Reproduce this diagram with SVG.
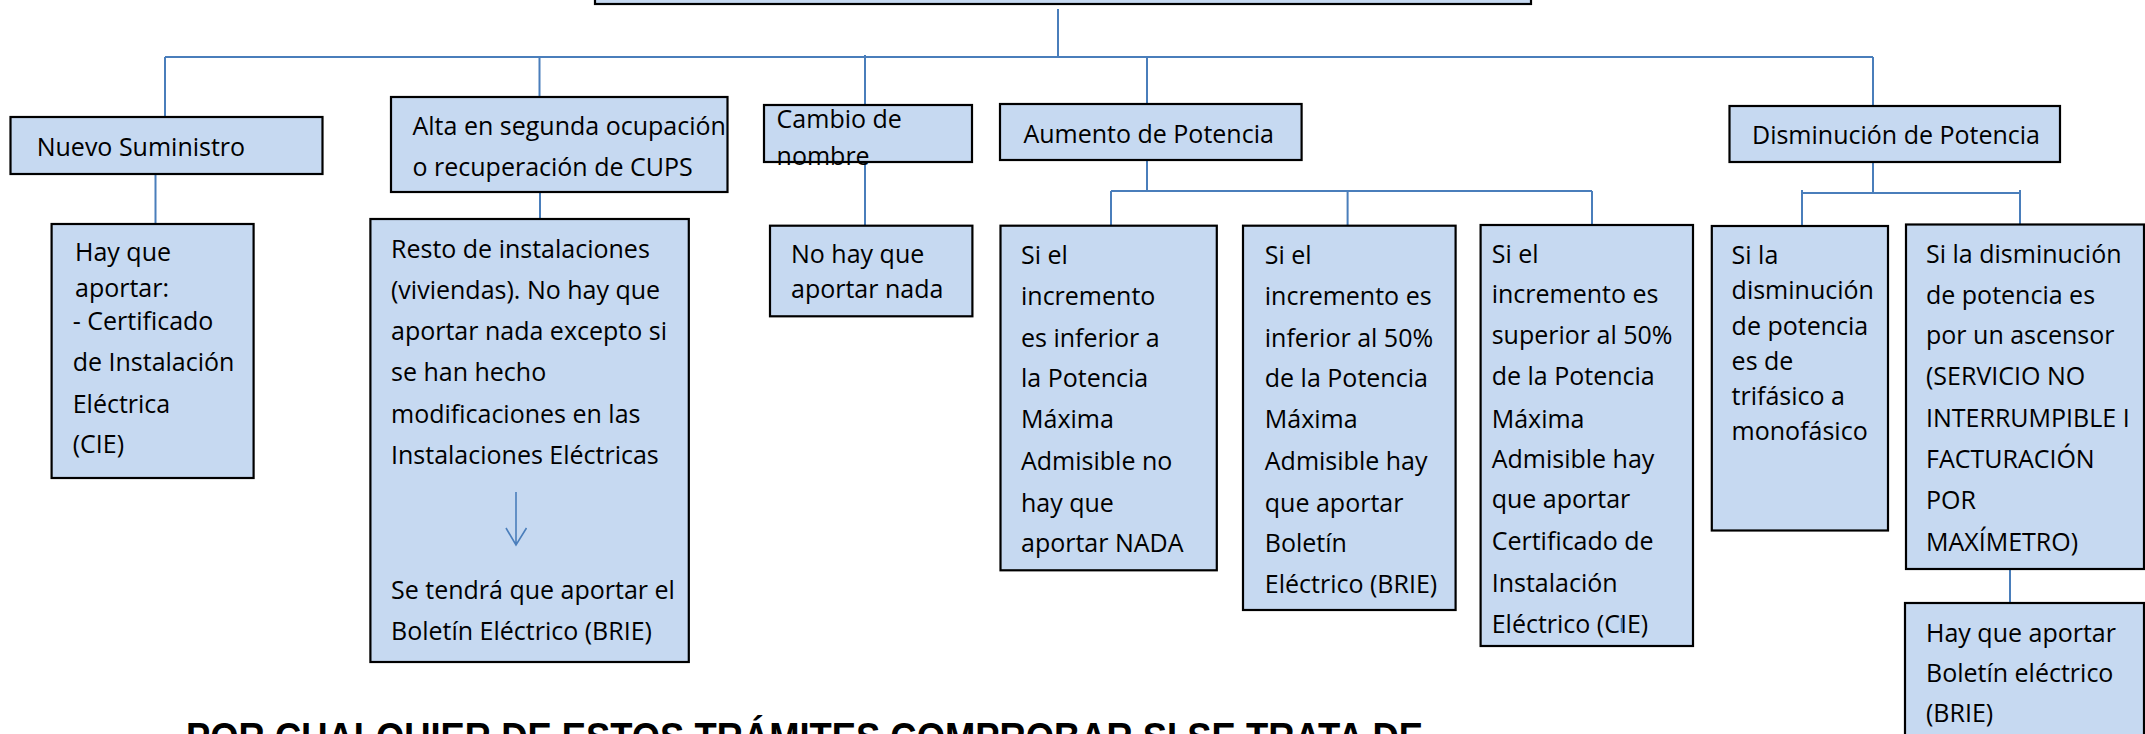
<svg xmlns="http://www.w3.org/2000/svg" width="2145" height="734" viewBox="0 0 2145 734">
<style>
.box{fill:#C6D9F1;stroke:#000;stroke-width:2.2}
.t{font-family:"Open Sans","Noto Sans","Liberation Sans",sans-serif;font-size:25px;fill:#000}
.c{stroke:#4A7EBB;stroke-width:2;fill:none}
.big{font-family:"Liberation Sans","Open Sans",sans-serif;font-weight:bold;font-size:40px;fill:#000}
</style>
<rect width="2145" height="734" fill="#fff"/>
<g id="connectors">
<path class="c" d="M1058 9V57M165 57H1873M165 57V119M539.5 57V97M865 55V105M1147 57V104M1873 57V106"/>
<path class="c" d="M155.5 174V224M540 192V220M865 162V226"/>
<path class="c" d="M1147 160V191M1111 191H1592M1111 191V226M1347.6 191V226M1592 191V225"/>
<path class="c" d="M1873 162V193M1802 193H2020M1802 190V226M2020 190V224.5"/>
<path class="c" d="M2010 569V603"/>
</g>
<g id="top"><rect class="box" x="595" y="-60" width="936" height="64"/></g>
<g id="nuevo"><rect class="box" x="10.5" y="117" width="312" height="57"/>
<text class="t" x="36.7" y="155.7">Nuevo Suministro</text></g>
<g id="alta"><rect class="box" x="391" y="97" width="336.5" height="95"/>
<text class="t" x="412.5" y="135">Alta en segunda ocupación</text>
<text class="t" x="412.5" y="176">o recuperación de CUPS</text></g>
<g id="cambio"><rect class="box" x="764" y="105" width="208" height="57"/>
<text class="t" x="776.6" y="127.7">Cambio de</text>
<text class="t" x="776.6" y="165">nombre</text></g>
<g id="aumento"><rect class="box" x="1000" y="104" width="301.6" height="56"/>
<text class="t" x="1023.4" y="142.7">Aumento de Potencia</text></g>
<g id="disminucion"><rect class="box" x="1729.5" y="106" width="330.5" height="56"/>
<text class="t" x="1752" y="144">Disminución de Potencia</text></g>
<g id="nuevo-doc"><rect class="box" x="51.6" y="224" width="202" height="254"/>
<text class="t" x="75" y="261">Hay que</text>
<text class="t" x="75" y="297">aportar:</text>
<text class="t" x="72.7" y="330">- Certificado</text>
<text class="t" x="72.7" y="371">de Instalación</text>
<text class="t" x="72.7" y="413">Eléctrica</text>
<text class="t" x="72.7" y="453">(CIE)</text></g>
<g id="alta-doc"><rect class="box" x="370.4" y="219" width="318.4" height="443"/>
<text class="t" x="391" y="258">Resto de instalaciones</text>
<text class="t" x="391" y="299">(viviendas). No hay que</text>
<text class="t" x="391" y="340">aportar nada excepto si</text>
<text class="t" x="391" y="381">se han hecho</text>
<text class="t" x="391" y="423">modificaciones en las</text>
<text class="t" x="391" y="464">Instalaciones Eléctricas</text>
<path d="M516 492V545M506 528L516 545L526.5 528" fill="none" stroke="#4A7EBB" stroke-width="1.6"/>
<text class="t" x="391" y="598.5">Se tendrá que aportar el</text>
<text class="t" x="391" y="640">Boletín Eléctrico (BRIE)</text></g>
<g id="cambio-doc"><rect class="box" x="770" y="225.7" width="202.4" height="90.6"/>
<text class="t" x="791" y="263.3">No hay que</text>
<text class="t" x="791" y="298.3">aportar nada</text></g>
<g id="aumento-1"><rect class="box" x="1000.5" y="225.7" width="216.3" height="344.6"/>
<text class="t" x="1021" y="264">Si el</text>
<text class="t" x="1021" y="305.3">incremento</text>
<text class="t" x="1021" y="346.7">es inferior a</text>
<text class="t" x="1021" y="387.3">la Potencia</text>
<text class="t" x="1021" y="428.3">Máxima</text>
<text class="t" x="1021" y="470">Admisible no</text>
<text class="t" x="1021" y="511.7">hay que</text>
<text class="t" x="1021" y="552.3">aportar NADA</text></g>
<g id="aumento-2"><rect class="box" x="1243" y="225.7" width="212.6" height="384.3"/>
<text class="t" x="1264.8" y="264">Si el</text>
<text class="t" x="1264.8" y="305.3">incremento es</text>
<text class="t" x="1264.8" y="346.7">inferior al 50%</text>
<text class="t" x="1264.8" y="387.3">de la Potencia</text>
<text class="t" x="1264.8" y="428.3">Máxima</text>
<text class="t" x="1264.8" y="470">Admisible hay</text>
<text class="t" x="1264.8" y="511.7">que aportar</text>
<text class="t" x="1264.8" y="552.3">Boletín</text>
<text class="t" x="1264.8" y="593.3">Eléctrico (BRIE)</text></g>
<g id="aumento-3"><rect class="box" x="1480.6" y="225" width="212.4" height="421"/>
<text class="t" x="1491.7" y="262.7">Si el</text>
<text class="t" x="1491.7" y="303.3">incremento es</text>
<text class="t" x="1491.7" y="344">superior al 50%</text>
<text class="t" x="1491.7" y="385">de la Potencia</text>
<text class="t" x="1491.7" y="427.7">Máxima</text>
<text class="t" x="1491.7" y="467.7">Admisible hay</text>
<text class="t" x="1491.7" y="508.3">que aportar</text>
<text class="t" x="1491.7" y="550">Certificado de</text>
<text class="t" x="1491.7" y="591.7">Instalación</text>
<text class="t" x="1491.7" y="633.3">Eléctrico (CIE)</text>
<path d="M1621.7 618V632" stroke="#4A7EBB" stroke-width="2"/></g>
<g id="disminucion-1"><rect class="box" x="1711.8" y="226" width="176.2" height="304.5"/>
<text class="t" x="1731.6" y="264">Si la</text>
<text class="t" x="1731.6" y="299.4">disminución</text>
<text class="t" x="1731.6" y="334.8">de potencia</text>
<text class="t" x="1731.6" y="370">es de</text>
<text class="t" x="1731.6" y="405">trifásico a</text>
<text class="t" x="1731.6" y="440.4">monofásico</text></g>
<g id="disminucion-2"><rect class="box" x="1906" y="224.5" width="238" height="344.5"/>
<text class="t" x="1926" y="263.4">Si la disminución</text>
<text class="t" x="1926" y="303.7">de potencia es</text>
<text class="t" x="1926" y="344.3">por un ascensor</text>
<text class="t" x="1926" y="385">(SERVICIO NO</text>
<text class="t" x="1926" y="427.3">INTERRUMPIBLE I</text>
<text class="t" x="1926" y="468">FACTURACIÓN</text>
<text class="t" x="1926" y="509.3">POR</text>
<text class="t" x="1926" y="551">MAXÍMETRO)</text></g>
<g id="disminucion-3"><rect class="box" x="1905" y="603" width="239" height="160"/>
<text class="t" x="1926" y="642">Hay que aportar</text>
<text class="t" x="1926" y="681.8">Boletín eléctrico</text>
<text class="t" x="1926" y="722">(BRIE)</text></g>
<g id="note"><text class="big" x="186" y="751" textLength="1237" lengthAdjust="spacingAndGlyphs">POR CUALQUIER DE ESTOS TRÁMITES COMPROBAR SI SE TRATA DE</text></g>
</svg>
